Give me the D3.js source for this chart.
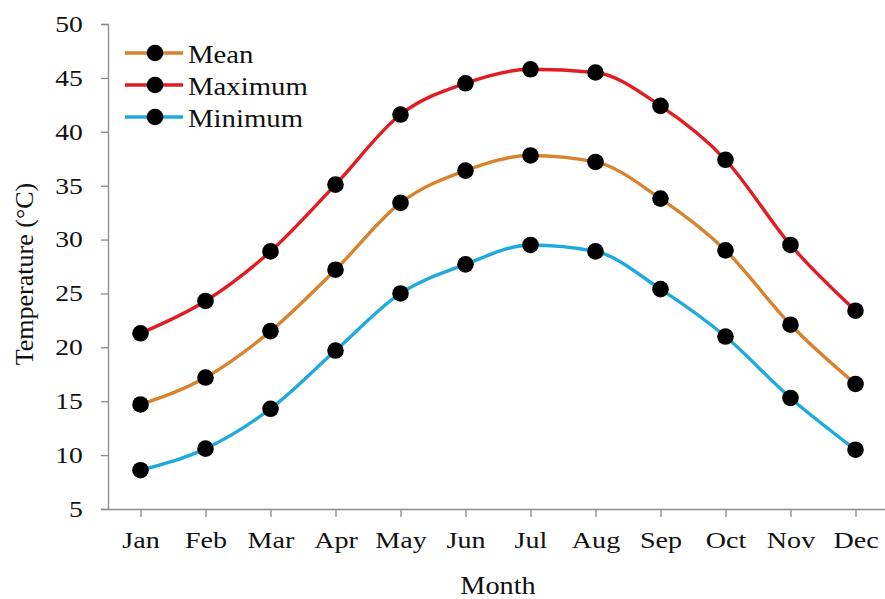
<!DOCTYPE html>
<html lang="en">
<head>
  <meta charset="UTF-8">
  <title>Monthly Temperature</title>
  <script src="https://d3js.org/d3.v7.min.js"></script>
  <style>
    body { margin: 0; background: #fff; }
    svg { font-family: "Liberation Serif", "Times New Roman", serif; }
  </style>
</head>
<body>
<svg width="885" height="599"></svg>
<script>
  const months = ["Jan", "Feb", "Mar", "Apr", "May", "Jun", "Jul", "Aug", "Sep", "Oct", "Nov", "Dec"];
  const meanTemp = [14.7, 17.2, 21.5, 27.2, 33.4, 36.4, 37.8, 37.2, 33.8, 29.0, 22.1, 16.6];
  const maxTemp  = [21.3, 24.3, 28.9, 35.1, 41.6, 44.5, 45.8, 45.5, 42.4, 37.4, 29.5, 23.4];
  const minTemp  = [8.6, 10.6, 14.3, 19.7, 25.0, 27.7, 29.5, 28.9, 25.4, 21.0, 15.3, 10.5];
  const yTicks = [5, 10, 15, 20, 25, 30, 35, 40, 45, 50];

  const series = [
    { name: "Mean", values: meanTemp, color: "#d9822e" },
    { name: "Maximum", values: maxTemp, color: "#e11d24" },
    { name: "Minimum", values: minTemp, color: "#1eaade" }
  ];

  const svg = d3.select("svg");
  const x = d3.scalePoint().domain(months).range([108, 888]).padding(0.5);
  const y = d3.scaleLinear().domain([5, 50]).range([509, 24]);

  const axisColor = "#8a8a8a";
  const stretch = "scale(1.2,1)"; // the source font runs wide

  // y axis
  const yAxis = svg.append("g")
    .attr("transform", "translate(108,0)")
    .call(d3.axisLeft(y).tickValues(yTicks).tickSize(7).tickPadding(14));
  yAxis.select(".domain").attr("stroke", axisColor).attr("stroke-width", 1.3);
  yAxis.selectAll(".tick line").attr("stroke", axisColor).attr("stroke-width", 1.3);
  yAxis.selectAll(".tick text").attr("font-size", 23).attr("fill", "#111")
    .attr("font-family", "Liberation Serif").attr("transform", stretch);

  // x axis
  const xAxis = svg.append("g")
    .attr("transform", "translate(0,509)")
    .call(d3.axisBottom(x).tickSize(8).tickSizeOuter(0).tickPadding(14));
  xAxis.select(".domain").attr("stroke", axisColor).attr("stroke-width", 1.3);
  xAxis.selectAll(".tick line").attr("stroke", axisColor).attr("stroke-width", 1.3);
  xAxis.selectAll(".tick text").attr("font-size", 24).attr("fill", "#111")
    .attr("font-family", "Liberation Serif").attr("transform", "scale(1.17,1)");

  // axis titles
  svg.append("text")
    .attr("transform", "translate(498,594) scale(1.13,1)")
    .attr("text-anchor", "middle")
    .attr("font-size", 25).attr("fill", "#111")
    .text("Month");

  svg.append("text")
    .attr("transform", "translate(33,274) rotate(-90)")
    .attr("text-anchor", "middle")
    .attr("font-size", 26).attr("fill", "#111")
    .text("Temperature (°C)");

  const line = d3.line()
    .x((d, i) => x(months[i]))
    .y(d => y(d))
    .curve(d3.curveMonotoneX);

  series.forEach(s => {
    svg.append("path")
      .datum(s.values)
      .attr("fill", "none")
      .attr("stroke", s.color)
      .attr("stroke-width", 3.4)
      .attr("d", line);
  });

  series.forEach(s => {
    svg.append("g").selectAll("circle")
      .data(s.values)
      .join("circle")
      .attr("cx", (d, i) => x(months[i]))
      .attr("cy", d => y(d))
      .attr("r", 8.3)
      .attr("fill", "#000");
  });

  // legend
  const legend = svg.append("g").attr("transform", "translate(125,53)");
  series.forEach((s, i) => {
    const row = legend.append("g").attr("transform", `translate(0,${i * 32})`);
    row.append("line")
      .attr("x1", 0).attr("x2", 58)
      .attr("stroke", s.color).attr("stroke-width", 3.4);
    row.append("circle").attr("cx", 30).attr("r", 8.3).attr("fill", "#000");
    row.append("text")
      .attr("transform", "translate(63,10) scale(1.15,1)")
      .attr("font-size", 25).attr("fill", "#111")
      .text(s.name);
  });
</script>
</body>
</html>
